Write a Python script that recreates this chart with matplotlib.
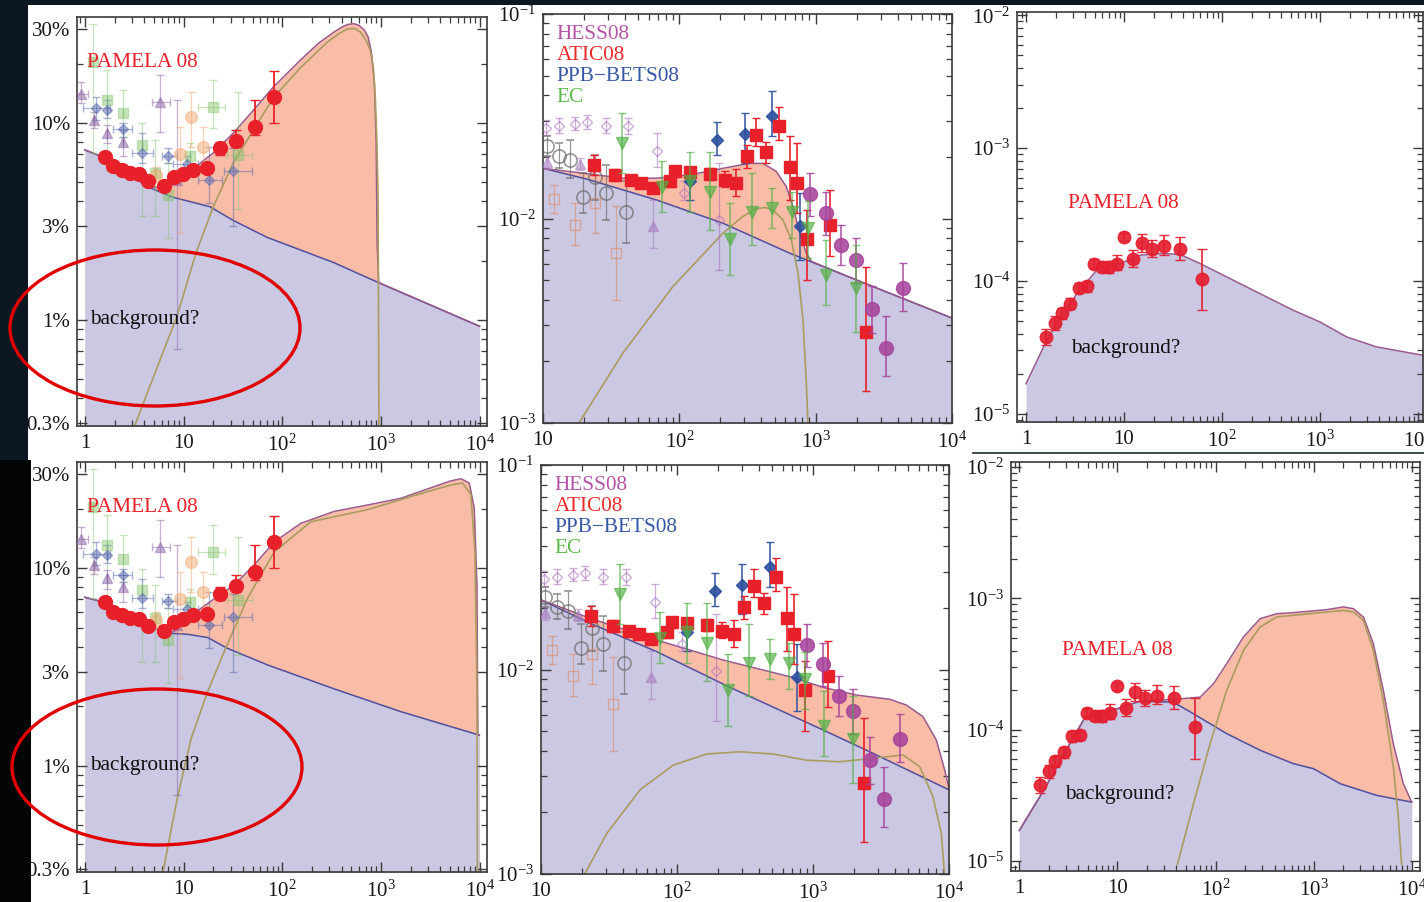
import numpy as np
import matplotlib
matplotlib.use("Agg")
import matplotlib.pyplot as plt
from matplotlib.patches import Ellipse, Rectangle
from matplotlib.lines import Line2D
from matplotlib.ticker import FixedLocator, FixedFormatter, LogLocator, NullFormatter

plt.rcParams["font.family"] = ["Liberation Serif", "DejaVu Serif"]
plt.rcParams["mathtext.fontset"] = "custom"
plt.rcParams["mathtext.rm"] = "Liberation Serif"
plt.rcParams["mathtext.it"] = "Liberation Serif:italic"
plt.rcParams["mathtext.bf"] = "Liberation Serif:bold"

# ---------------------------------------------------------------- data
# positron fraction, PAMELA 08
pam_frac_E = [1.6, 1.91, 2.36, 2.86, 3.56, 4.4, 6.34, 8.0, 9.8, 12.4, 17.2, 23.5, 33.6, 53.2, 81.6]
pam_frac_v = [0.0671, 0.0602, 0.058, 0.0557, 0.0552, 0.051, 0.048, 0.0535, 0.0552, 0.058, 0.059, 0.0745, 0.0814, 0.0955, 0.1358]
pam_frac_lo = [0.0655, 0.0588, 0.0566, 0.0543, 0.0538, 0.0497, 0.0466, 0.052, 0.0535, 0.0562, 0.0567, 0.0689, 0.0759, 0.0869, 0.1005]
pam_frac_hi = [0.0687, 0.0616, 0.0594, 0.0571, 0.0566, 0.0523, 0.0494, 0.055, 0.0569, 0.0598, 0.0613, 0.0805, 0.0923, 0.1306, 0.1837]

# older positron fraction measurements
old_tri_E = [0.91, 1.24, 1.69, 2.41, 5.77, 8.5]
old_tri_v = [0.141, 0.104, 0.0893, 0.0805, 0.128, 0.0515]
old_tri_lo = [0.126, 0.094, 0.0789, 0.0676, 0.0904, 0.00714]
old_tri_hi = [0.162, 0.114, 0.0977, 0.092, 0.175, 0.131]
old_tri_Elo = [0.82, 1.24, 1.69, 2.41, 4.75, 8.5]
old_tri_Ehi = [1.08, 1.24, 1.69, 2.41, 7.3, 8.5]

old_dia_E = [1.31, 1.69, 2.41, 3.76, 7.0, 10.8, 18.3, 32.0]
old_dia_v = [0.1186, 0.1163, 0.0929, 0.0703, 0.0681, 0.0621, 0.0515, 0.0568]
old_dia_lo = [0.1036, 0.1057, 0.0853, 0.0626, 0.0626, 0.058, 0.0393, 0.0299]
old_dia_hi = [0.136, 0.1306, 0.0996, 0.0887, 0.0745, 0.0676, 0.0759, 0.0745]
old_dia_Elo = [0.96, 1.69, 1.94, 2.98, 6.0, 7.9, 14.1, 25.4]
old_dia_Ehi = [1.79, 1.69, 2.98, 4.94, 8.5, 14.1, 24.4, 49.0]

old_sq_E = [1.21, 1.69, 2.45, 3.76, 5.14, 7.0, 11.6, 20.1, 36.0]
old_sq_v = [0.204, 0.1306, 0.112, 0.0774, 0.0557, 0.0433, 0.0676, 0.1208, 0.0689]
old_sq_lo = [0.0703, 0.0703, 0.0853, 0.0336, 0.0336, 0.0262, 0.0602, 0.094, 0.0364]
old_sq_hi = [0.319, 0.185, 0.147, 0.0996, 0.082, 0.0626, 0.0789, 0.165, 0.144]
old_sq_Elo = [1.21, 1.69, 2.45, 3.76, 5.14, 7.0, 11.6, 14.1, 27.5]
old_sq_Ehi = [1.21, 1.69, 2.45, 3.76, 5.14, 7.0, 11.6, 26.4, 49.0]

old_circ_E = [5.3, 9.2, 11.8, 15.7]
old_circ_v = [0.0545, 0.0697, 0.107, 0.0759]
old_circ_lo = [0.05, 0.0277, 0.0759, 0.0602]
old_circ_hi = [0.06, 0.0958, 0.144, 0.0958]

# model curves, positron fraction, M = 1 TeV (top) and 10 TeV (bottom)
tl_bg_E = [1, 1.8, 4.3, 7.8, 18.5, 32, 70, 330, 940, 10000]
tl_bg_v = [0.073, 0.065, 0.0475, 0.042, 0.0376, 0.032, 0.0263, 0.0196, 0.0155, 0.0093]
tl_tot_E = [1, 1.8, 4.3, 6, 8, 11, 15, 20, 32, 51, 81, 152, 233, 330, 400, 457, 530, 600, 680, 740, 800,
            860, 895, 915, 950, 10000]
tl_tot_v = [0.073, 0.065, 0.0475, 0.047, 0.049, 0.054, 0.063, 0.0705, 0.089, 0.116, 0.152, 0.208, 0.254,
            0.288, 0.306, 0.316, 0.319, 0.313, 0.296, 0.274, 0.23, 0.159, 0.08, 0.0245, 0.0155, 0.0093]
tl_sig_E = [3.1, 8.6, 13.4, 20, 32, 51, 81, 152, 285, 380, 457, 540, 620, 700, 780, 840, 880, 910, 936, 955]
tl_sig_v = [0.0028, 0.0105, 0.022, 0.0376, 0.063, 0.092, 0.134, 0.19, 0.257, 0.285, 0.30, 0.302, 0.289,
            0.265, 0.234, 0.19, 0.13, 0.08, 0.041, 0.0028]

bl_bg_E = [1, 1.7, 4.3, 6.9, 11, 17.5, 27.9, 71, 337, 1590, 9930]
bl_bg_v = [0.0713, 0.0665, 0.0516, 0.0469, 0.0463, 0.0446, 0.0393, 0.0324, 0.0245, 0.0188, 0.0143]
bl_tot_E = [1, 1.7, 4.3, 6.9, 8.0, 15, 32.6, 52, 83, 155, 337, 733, 1595, 3470, 5000, 6470, 7850, 8830,
            9400, 9600, 9930]
bl_tot_v = [0.0713, 0.0665, 0.0516, 0.0469, 0.0478, 0.0627, 0.0824, 0.104, 0.136, 0.169, 0.194, 0.209,
            0.226, 0.259, 0.276, 0.284, 0.27, 0.202, 0.082, 0.0143, 0.0143]
bl_sig_E = [6.1, 8.7, 11.9, 17.5, 25.8, 44.5, 83, 195, 733, 2350, 5120, 6720, 8170, 8970, 9400, 9500]
bl_sig_v = [0.0028, 0.00697, 0.0137, 0.0237, 0.0378, 0.0705, 0.121, 0.172, 0.198, 0.236, 0.264, 0.27,
            0.236, 0.121, 0.0256, 0.0028]

# electron + positron flux
hess_E = [904, 1183, 1541, 1985, 2605, 3300, 4370]
hess_v = [0.0132, 0.01062, 0.00743, 0.00628, 0.0036, 0.00232, 0.00457]
hess_lo = [0.01023, 0.00832, 0.00594, 0.00483, 0.00275, 0.00169, 0.00352]
hess_hi = [0.01667, 0.01355, 0.00931, 0.00801, 0.00466, 0.00332, 0.00605]

atic_E = [23.5, 33.6, 44.5, 52.6, 64, 85, 92.4, 119, 167, 215, 262, 313, 367, 434, 538, 644, 729, 869, 1282, 2355]
atic_v = [0.01828, 0.01633, 0.01545, 0.0149, 0.01407, 0.01517, 0.01698, 0.0168, 0.01653, 0.01545, 0.0149,
          0.0201, 0.02565, 0.02124, 0.02838, 0.01795, 0.0149, 0.00793, 0.00931, 0.0028]
atic_lo = [0.0163, 0.0153, 0.0146, 0.0141, 0.0133, 0.0143, 0.0160, 0.0158, 0.0155, 0.01432, 0.01283,
           0.0176, 0.0225, 0.0186, 0.0242, 0.01233, 0.01062, 0.00501, 0.00652, 0.00143]
atic_hi = [0.0205, 0.0175, 0.0164, 0.0158, 0.0149, 0.0161, 0.0180, 0.0179, 0.0176, 0.0170, 0.0174,
           0.0229, 0.0309, 0.02378, 0.0352, 0.0252, 0.02335, 0.0110, 0.0138, 0.00582]

ppb_E = [119, 190, 301, 481, 764]
ppb_v = [0.0152, 0.0242, 0.02594, 0.0318, 0.00914]
ppb_lo = [0.01233, 0.0205, 0.0186, 0.0252, 0.00628]
ppb_hi = [0.01795, 0.0298, 0.0327, 0.0418, 0.0133]

ec_E = [38, 74.6, 119, 167, 236.5, 341, 481, 670, 879, 1197, 1985]
ec_v = [0.02335, 0.01422, 0.0152, 0.01355, 0.00793, 0.01081, 0.0112, 0.01081, 0.00898, 0.00531, 0.00457]
ec_lo = [0.01667, 0.01081, 0.01081, 0.00881, 0.00531, 0.00743, 0.00898, 0.00801, 0.0064, 0.00378, 0.0028]
ec_hi = [0.0327, 0.019, 0.0212, 0.0212, 0.01189, 0.01667, 0.01407, 0.01355, 0.01211, 0.00787, 0.00743]

flux_odia_E = [10.6, 13.2, 17.1, 21.1, 28.8, 42, 69, 109, 195]
flux_odia_v = [0.0276, 0.0282, 0.029, 0.0295, 0.0284, 0.0284, 0.0215, 0.0133, 0.00984]
flux_odia_lo = [0.0257, 0.0262, 0.027, 0.0275, 0.0262, 0.026, 0.01795, 0.0123, 0.00561]
flux_odia_hi = [0.0303, 0.031, 0.0315, 0.032, 0.031, 0.031, 0.0261, 0.0152, 0.0186]

flux_ocirc_E = [10.7, 13.1, 15.9, 19.6, 23.9, 28.8, 40.8]
flux_ocirc_v = [0.0225, 0.0201, 0.01936, 0.0128, 0.01603, 0.0133, 0.01081]
flux_ocirc_lo = [0.0201, 0.0176, 0.01574, 0.0106, 0.01233, 0.00984, 0.00759]
flux_ocirc_hi = [0.0252, 0.0233, 0.0242, 0.0167, 0.0205, 0.0183, 0.0152]

flux_osq_E = [12, 17.1, 23.9, 34.1]
flux_osq_v = [0.0124, 0.0093, 0.0119, 0.00677]
flux_osq_lo = [0.0106, 0.00743, 0.00848, 0.004]
flux_osq_hi = [0.0146, 0.0119, 0.0163, 0.01145]

flux_tri_E = [10.7, 18.6, 64]
flux_tri_v = [0.0188, 0.0185, 0.00914]
flux_tri_lo = [0.0175, 0.0172, 0.00716]
flux_tri_hi = [0.0201, 0.0198, 0.01233]

tm_bg_E = [10, 22, 67.7, 209, 644, 1985, 10000]
tm_bg_v = [0.0176, 0.01545, 0.01233, 0.00948, 0.00677, 0.00501, 0.00326]
tm_tot_E = [10, 22, 38.6, 67.7, 119, 209, 328, 411, 514, 609, 682, 764, 854, 930, 1985, 10000]
tm_tot_v = [0.0176, 0.0165, 0.01574, 0.01574, 0.01633, 0.0176, 0.0186, 0.0186, 0.0170, 0.01432, 0.01145,
            0.00848, 0.00677, 0.00617, 0.00501, 0.00326]
tm_sig_E = [18, 38.6, 90, 209, 290, 367, 430, 486, 575, 663, 742, 807, 854, 879]
tm_sig_v = [0.00098, 0.0022, 0.00466, 0.00848, 0.0102, 0.0112, 0.0113, 0.0110, 0.00985, 0.00787, 0.0054,
            0.0032, 0.00157, 0.00098]

bm_bg_E = [10, 23, 71, 245, 1188, 2612, 10000]
bm_bg_v = [0.0219, 0.01682, 0.01222, 0.00818, 0.00506, 0.00396, 0.00258]
bm_tot_E = [10, 23, 71, 219, 676, 1188, 2090, 3665, 4860, 6440, 8070, 9290, 10000]
bm_tot_v = [0.0219, 0.0178, 0.01393, 0.01112, 0.00922, 0.00818, 0.0075, 0.00715, 0.0067, 0.00588,
            0.00452, 0.00323, 0.00262]
bm_sig_E = [20.6, 30.5, 53.5, 94, 165, 290, 510, 897, 1575, 2770, 4590, 6085, 7620, 8780, 9290]
bm_sig_v = [0.00098, 0.00158, 0.00258, 0.00341, 0.00386, 0.00396, 0.00386, 0.0036, 0.00354, 0.00368,
            0.00382, 0.00335, 0.00239, 0.00158, 0.00098]

# antiproton / proton ratio, PAMELA 08
pbar_E = [1.61, 1.99, 2.33, 2.83, 3.44, 4.19, 4.9, 5.95, 6.96, 8.47, 9.9, 12.2, 15.2, 19.2, 25.3, 37.4, 62.2]
pbar_v = [3.78e-5, 4.82e-5, 5.73e-5, 6.73e-5, 8.89e-5, 9.1e-5, 1.35e-4, 1.27e-4, 1.27e-4, 1.35e-4,
          2.14e-4, 1.45e-4, 1.93e-4, 1.75e-4, 1.82e-4, 1.75e-4, 1.04e-4]
pbar_lo = [3.27e-5, 4.3e-5, 5.2e-5, 6.1e-5, 8.1e-5, 8.3e-5, 1.24e-4, 1.16e-4, 1.15e-4, 1.2e-4,
           2.0e-4, 1.27e-4, 1.65e-4, 1.52e-4, 1.56e-4, 1.43e-4, 6.0e-5]
pbar_hi = [4.37e-5, 5.4e-5, 6.3e-5, 7.4e-5, 9.7e-5, 1.0e-4, 1.46e-4, 1.39e-4, 1.41e-4, 1.56e-4,
           2.28e-4, 1.7e-4, 2.27e-4, 2.02e-4, 2.2e-4, 2.14e-4, 1.75e-4]

tr_bg_E = [1, 1.51, 2.24, 3.31, 4.9, 5.7, 9.2, 14.6, 23.4, 37.4, 59.8, 112, 245, 535, 1000, 1870, 3780, 11300]
tr_bg_v = [1.68e-5, 3.18e-5, 5.35e-5, 8.0e-5, 1.13e-4, 1.27e-4, 1.35e-4, 1.56e-4, 1.61e-4, 1.58e-4,
           1.35e-4, 1.07e-4, 8.0e-5, 6.0e-5, 4.9e-5, 3.78e-5, 3.18e-5, 2.75e-5]

br_bg_E = [1, 1.77, 2.62, 3.58, 4.7, 9.9, 17.1, 37.3, 59.7, 130, 285, 623, 996, 1862, 4400, 10000]
br_bg_v = [1.71e-5, 3.45e-5, 5.83e-5, 8.79e-5, 1.25e-4, 1.44e-4, 1.65e-4, 1.62e-4, 1.32e-4, 9.33e-5,
           6.97e-5, 5.51e-5, 5.05e-5, 3.88e-5, 3.16e-5, 2.81e-5]
br_tot_E = [1, 1.77, 2.62, 3.58, 4.7, 9.9, 17.1, 37.3, 69.8, 95.5, 130, 193, 285, 422, 623, 1362, 2014,
            2546, 3222, 4067, 5140, 6500, 8225, 10000]
br_tot_v = [1.71e-5, 3.45e-5, 5.83e-5, 8.79e-5, 1.25e-4, 1.44e-4, 1.65e-4, 1.7e-4, 1.77e-4, 2.24e-4,
            3.18e-4, 5.08e-4, 7.0e-4, 7.64e-4, 7.78e-4, 8.2e-4, 8.6e-4, 8.34e-4, 7.2e-4, 4.52e-4,
            2.0e-4, 7.8e-5, 3.88e-5, 2.81e-5]
br_sig_E = [41, 59.7, 88, 130, 193, 285, 422, 623, 1362, 2014, 2546, 3222, 4067, 5140, 6500, 7310, 7900]
br_sig_v = [9.5e-6, 2.74e-5, 7.8e-5, 1.99e-4, 4.02e-4, 6.05e-4, 7.22e-4, 7.43e-4, 7.87e-4, 8.1e-4,
            7.87e-4, 6.8e-4, 4.02e-4, 1.67e-4, 5.2e-5, 2.16e-5, 9.5e-6]

# tick labels
frac_xticks = [1, 10, 100, 1000, 10000]
frac_xlabels = ["1", "10", "$10^2$", "$10^3$", "$10^4$"]
frac_yticks = [0.003, 0.01, 0.03, 0.1, 0.3]
frac_ylabels = ["0.3%", "1%", "3%", "10%", "30%"]
flux_xticks = [10, 100, 1000, 10000]
flux_xlabels = ["10", "$10^2$", "$10^3$", "$10^4$"]
flux_yticks = [1e-3, 1e-2, 1e-1]
flux_ylabels = ["$10^{-3}$", "$10^{-2}$", "$10^{-1}$"]
pbar_yticks = [1e-5, 1e-4, 1e-3, 1e-2]
pbar_ylabels = ["$10^{-5}$", "$10^{-4}$", "$10^{-3}$", "$10^{-2}$"]

# ---------------------------------------------------------------- style
LAV = "#cac8e2"
SALMON = "#f9bca7"
BGLINE = "#4f4f9f"
TOTLINE = "#9a5a8e"
OLIVE = "#aa9c5e"
RED = "#e8202a"
HESS_C = "#a8449c"
PPB_C = "#2c4f9e"
EC_C = "#4fb043"
TEXT_FS = 15.3
TICK_FS = 15

W, H = 1424, 902
fig = plt.figure(figsize=(W / 100, H / 100), dpi=100, facecolor="white")


def px_axes(left, top, right, bottom):
    return fig.add_axes([left / W, 1 - bottom / H, (right - left) / W, (bottom - top) / H])


def style(ax, xlim, ylim, xt, xl, yt, yl):
    ax.set_xscale("log")
    ax.set_yscale("log")
    ax.set_xlim(*xlim)
    ax.set_ylim(*ylim)
    ax.xaxis.set_major_locator(FixedLocator(xt))
    ax.xaxis.set_major_formatter(FixedFormatter(xl))
    ax.yaxis.set_major_locator(FixedLocator(yt))
    ax.yaxis.set_major_formatter(FixedFormatter(yl))
    for a in (ax.xaxis, ax.yaxis):
        a.set_minor_locator(LogLocator(base=10, subs=np.arange(2, 10), numticks=100))
        a.set_minor_formatter(NullFormatter())
    ax.tick_params(which="both", direction="in", top=True, right=True,
                   color="#3a3a3a", labelcolor="#161616", labelsize=TICK_FS)
    ax.tick_params(which="major", length=7, width=1.0)
    ax.tick_params(which="minor", length=4, width=0.9)
    ax.tick_params(axis="x", pad=6)
    ax.tick_params(axis="y", pad=5)
    for s in ax.spines.values():
        s.set_color("#3a3a3a")
        s.set_linewidth(1.2)
    ax.set_facecolor("white")


def model(ax, floor, bgE, bgV, totE=None, totV=None, sigE=None, sigV=None, bgcolor=BGLINE):
    if totE is not None:
        ax.fill_between(totE, totV, floor, color=SALMON, lw=0, zorder=1)
    ax.fill_between(bgE, bgV, floor, color=LAV, lw=0, zorder=1.1)
    ax.plot(bgE, bgV, color=bgcolor, lw=1.1, zorder=1.5)
    if totE is not None:
        ax.plot(totE, totV, color=TOTLINE, lw=1.1, zorder=1.6)
    if sigE is not None:
        ax.plot(sigE, sigV, color=OLIVE, lw=1.2, zorder=1.7)


def points(ax, E, v, lo, hi, marker, color, ms, alpha=1.0, open_=False, Elo=None, Ehi=None,
           z=3, cap=3, elw=1.0, mew=1.0):
    E = np.asarray(E, float)
    v = np.asarray(v, float)
    yerr = [v - np.asarray(lo, float), np.asarray(hi, float) - v]
    xerr = None
    if Elo is not None:
        xerr = [E - np.asarray(Elo, float), np.asarray(Ehi, float) - E]
    ax.errorbar(E, v, yerr=yerr, xerr=xerr, fmt=marker, color=color,
                mfc="none" if open_ else color, mec=color, ms=ms, mew=mew,
                alpha=alpha, capsize=cap, elinewidth=elw, capthick=elw, zorder=z, lw=0)


def frac_panel(ax, bgE, bgV, totE, totV, sigE, sigV):
    ylim = (0.0029, 0.345)
    style(ax, (10 ** -0.08, 10 ** 4.075), ylim, frac_xticks, frac_xlabels, frac_yticks, frac_ylabels)
    model(ax, 1e-4, bgE, bgV, totE, totV, sigE, sigV)
    points(ax, old_sq_E, old_sq_v, old_sq_lo, old_sq_hi, "s", "#86c46e", 7, alpha=0.45,
           Elo=old_sq_Elo, Ehi=old_sq_Ehi, cap=3, elw=0.9)
    points(ax, old_tri_E, old_tri_v, old_tri_lo, old_tri_hi, "^", "#8f66a8", 7, alpha=0.5,
           Elo=old_tri_Elo, Ehi=old_tri_Ehi, cap=3, elw=0.9)
    points(ax, old_dia_E, old_dia_v, old_dia_lo, old_dia_hi, "D", "#5a6cb0", 5, alpha=0.5,
           Elo=old_dia_Elo, Ehi=old_dia_Ehi, cap=3, elw=0.9)
    points(ax, old_circ_E, old_circ_v, old_circ_lo, old_circ_hi, "o", "#f3a870", 8.5, alpha=0.5,
           cap=3, elw=0.9)
    points(ax, pam_frac_E, pam_frac_v, pam_frac_lo, pam_frac_hi, "o", RED, 10, z=4, cap=3.5, elw=1.3)
    ax.text(0.024, 0.888, "PAMELA 08", transform=ax.transAxes, color=RED, fontsize=TEXT_FS,
            va="center", ha="left", zorder=5)
    ax.text(0.032, 0.26, "background?", transform=ax.transAxes, color="#111111", fontsize=TEXT_FS,
            va="center", ha="left", zorder=5)


def flux_panel(ax, bgE, bgV, totE, totV, sigE, sigV):
    style(ax, (10, 1e4), (1e-3, 1e-1), flux_xticks, flux_xlabels, flux_yticks, flux_ylabels)
    model(ax, 1e-4, bgE, bgV, totE, totV, sigE, sigV)
    points(ax, flux_osq_E, flux_osq_v, flux_osq_lo, flux_osq_hi, "s", "#e0865a", 7, alpha=0.55,
           open_=True, cap=3, elw=0.9)
    points(ax, flux_tri_E, flux_tri_v, flux_tri_lo, flux_tri_hi, "^", "#a77cc0", 7.5, alpha=0.55,
           cap=3, elw=0.9)
    points(ax, flux_odia_E, flux_odia_v, flux_odia_lo, flux_odia_hi, "D", "#a86cbc", 5, alpha=0.55,
           open_=True, cap=3, elw=0.9)
    points(ax, flux_ocirc_E, flux_ocirc_v, flux_ocirc_lo, flux_ocirc_hi, "o", "#6a6a6a", 9.5,
           alpha=0.7, open_=True, cap=3, elw=0.9, mew=1.2)
    points(ax, ppb_E, ppb_v, ppb_lo, ppb_hi, "D", PPB_C, 6.5, alpha=0.9, z=3.2, cap=3, elw=1.2)
    points(ax, atic_E, atic_v, atic_lo, atic_hi, "s", RED, 8, z=3.4, cap=3, elw=1.2)
    points(ax, hess_E, hess_v, hess_lo, hess_hi, "o", HESS_C, 10, alpha=0.88, z=3.5, cap=3, elw=1.2)
    points(ax, ec_E, ec_v, ec_lo, ec_hi, "v", EC_C, 9, alpha=0.65, z=3.6, cap=3, elw=1.2)
    labels = [("HESS08", "#b453a8", 0.949), ("ATIC08", "#ec2a2a", 0.899),
              ("PPB\u2212BETS08", "#3557a4", 0.848), ("EC", "#5cba4a", 0.797)]
    for txt, col, yy in labels:
        ax.text(0.034, yy, txt, transform=ax.transAxes, color=col, fontsize=TEXT_FS,
                va="center", ha="left", zorder=5)


def pbar_panel(ax, xlim, ylim, bgE, bgV, totE=None, totV=None, sigE=None, sigV=None, txt=None):
    style(ax, xlim, ylim, frac_xticks, frac_xlabels, pbar_yticks, pbar_ylabels)
    if totE is None:
        model(ax, 1e-7, bgE, bgV, bgcolor=TOTLINE)
    else:
        model(ax, 1e-7, bgE, bgV, totE, totV, sigE, sigV)
    points(ax, pbar_E, pbar_v, pbar_lo, pbar_hi, "o", "#e41f30", 9, alpha=0.92, z=4, cap=3.5, elw=1.3)
    ax.text(txt[0], txt[1], "PAMELA 08", transform=ax.transAxes, color=RED, fontsize=TEXT_FS,
            va="center", ha="left", zorder=5)
    ax.text(txt[2], txt[3], "background?", transform=ax.transAxes, color="#111111", fontsize=TEXT_FS,
            va="center", ha="left", zorder=5)


ax_tl = px_axes(77, 17, 487, 426)
frac_panel(ax_tl, tl_bg_E, tl_bg_v, tl_tot_E, tl_tot_v, tl_sig_E, tl_sig_v)
ax_bl = px_axes(77, 462, 487, 872)
frac_panel(ax_bl, bl_bg_E, bl_bg_v, bl_tot_E, bl_tot_v, bl_sig_E, bl_sig_v)

ax_tm = px_axes(543, 14, 952, 423)
flux_panel(ax_tm, tm_bg_E, tm_bg_v, tm_tot_E, tm_tot_v, tm_sig_E, tm_sig_v)
ax_bm = px_axes(541, 465, 949, 874)
flux_panel(ax_bm, bm_bg_E, bm_bg_v, bm_tot_E, bm_tot_v, bm_sig_E, bm_sig_v)

ax_tr = px_axes(1017, 12, 1423, 422)
pbar_panel(ax_tr, (10 ** -0.092, 10 ** 4.05), (10 ** -5.063, 10 ** -1.975), tr_bg_E, tr_bg_v,
           txt=(0.125, 0.534, 0.132, 0.18))
ax_br = px_axes(1011, 462, 1420, 871)
pbar_panel(ax_br, (10 ** -0.085, 10 ** 4.085), (10 ** -5.076, 10 ** -1.962), br_bg_E, br_bg_v,
           br_tot_E, br_tot_v, br_sig_E, br_sig_v, txt=(0.124, 0.54, 0.132, 0.186))

# dark surround on the left and top edge
fig.add_artist(Rectangle((0, 1 - 460 / H), 28 / W, 460 / H, transform=fig.transFigure,
                         facecolor="#0c1721", edgecolor="none", zorder=20))
fig.add_artist(Rectangle((0, 0), 31 / W, 1 - 460 / H, transform=fig.transFigure,
                         facecolor="#040506", edgecolor="none", zorder=20))
fig.add_artist(Rectangle((0, 1 - 5 / H), 1, 5 / H, transform=fig.transFigure,
                         facecolor="#0c1721", edgecolor="none", zorder=20))
fig.add_artist(Line2D([973 / W, 1], [1 - 453 / H, 1 - 453 / H], transform=fig.transFigure,
                      color="#1c2c34", lw=1.2, zorder=20))

# red ellipses around the low-energy region
for cx, cy in [(155, 328), (157, 767)]:
    fig.add_artist(Ellipse((cx / W, 1 - cy / H), 290 / W, 156 / H, transform=fig.transFigure,
                           fill=False, edgecolor="#e10000", lw=2.4, zorder=21))

fig.savefig("out.png", dpi=100, facecolor=fig.get_facecolor())
